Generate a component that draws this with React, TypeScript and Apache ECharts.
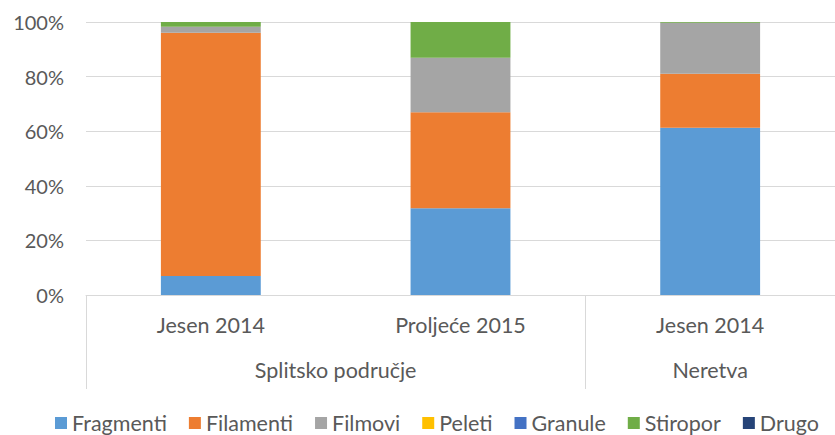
import React, { useEffect, useRef } from "react";
import * as echarts from "echarts";

const categories = ["Jesen 2014", "Proljeće 2015", "Jesen 2014"];
const groups = ["Splitsko područje", "Neretva"];
const seriesNames = ["Fragmenti", "Filamenti", "Filmovi", "Peleti", "Granule", "Stiropor", "Drugo"];
const fragmenti = [7, 31.8, 61.3];
const filamenti = [89.1, 35.1, 19.7];
const filmovi = [2.2, 20, 18.7];
const peleti = [0, 0, 0];
const granule = [0, 0, 0];
const stiropor = [1.7, 13.1, 0.3];
const drugo = [0, 0, 0];
const yTicks = [0, 20, 40, 60, 80, 100];
// group label positions along category index scale (0..3)
const groupCenters = [1, 2.5];
const groupBounds = [0, 2, 3];

const colors = ["#5B9BD5", "#ED7D31", "#A5A5A5", "#FFC000", "#4472C4", "#70AD47", "#264478"];
const FONT = "Lato";
const TXT = "#595959";

export default function App() {
  const ref = useRef<HTMLDivElement>(null);
  useEffect(() => {
    document.body.style.margin = "0";
    const chart = echarts.init(ref.current!, null, { renderer: "svg" });
    const values = [fragmenti, filamenti, filmovi, peleti, granule, stiropor, drugo];
    chart.setOption({
      animation: false,
      color: colors,
      textStyle: { fontFamily: FONT },
      grid: { left: 86, top: 22, width: 753, height: 273, containLabel: false },
      legend: {
        data: seriesNames,
        top: 411,
        left: 55,
        padding: 0,
        itemWidth: 12,
        itemHeight: 12,
        itemGap: 22,
        icon: "rect",
        textStyle: { color: TXT, fontSize: 21.5, fontFamily: FONT, lineHeight: 24 },
      },
      xAxis: [
        {
          type: "category",
          data: categories,
          position: "bottom",
          axisLine: { show: true, lineStyle: { color: "#d9d9d9", width: 1 } },
          axisTick: { show: false },
          axisLabel: { color: TXT, fontSize: 21.5, margin: 19, fontFamily: FONT },
        },
        {
          type: "value",
          min: 0,
          max: 3,
          position: "bottom",
          axisLine: { show: false },
          splitLine: { show: false },
          axisTick: {
            show: true,
            customValues: groupBounds,
            length: 94,
            lineStyle: { color: "#d9d9d9", width: 1 },
          },
          axisLabel: {
            customValues: groupCenters,
            color: TXT,
            fontSize: 21.5,
            margin: 64,
            fontFamily: FONT,
            formatter: (v: number) => {
              const i = groupCenters.indexOf(v);
              return i >= 0 ? groups[i] : "";
            },
          },
        },
      ],
      yAxis: {
        type: "value",
        min: yTicks[0],
        max: yTicks[yTicks.length - 1],
        interval: 20,
        axisLine: { show: false },
        axisTick: { show: false },
        splitLine: { lineStyle: { color: "#d9d9d9", width: 1 } },
        axisLabel: { formatter: "{value}%", color: TXT, fontSize: 20, margin: 22, fontFamily: FONT },
      },
      series: seriesNames.map((name, i) => ({
        name,
        type: "bar",
        stack: "total",
        xAxisIndex: 0,
        barWidth: "40%",
        data: values[i],
        itemStyle: { color: colors[i] },
      })),
    });
    return () => chart.dispose();
  }, []);
  return <div ref={ref} style={{ width: 835, height: 435 }} />;
}
